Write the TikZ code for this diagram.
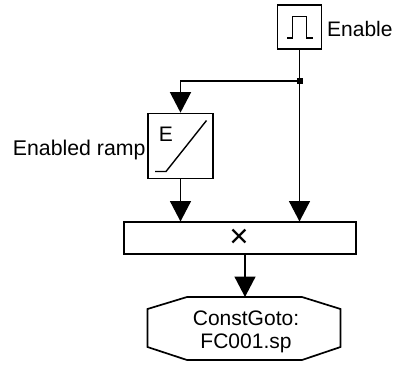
\documentclass[tikz,border=0pt]{standalone}
\usepackage{fontspec}
\setmainfont{Liberation Sans}
\usetikzlibrary{arrows.meta}
\begin{document}
\begin{tikzpicture}[x=1pt,y=-1pt,
  blk/.style={draw=black,line width=1.7pt,fill=white,inner sep=0pt,anchor=center},
  wire/.style={draw=black,line width=1.5pt},
  arr/.style={wire,-{Triangle[length=20.5pt,width=21pt,fill=black]}},
  lbl/.style={font=\fontsize{21pt}{22.5pt}\selectfont,inner sep=0pt,text=black},
  icon/.style={draw=black,line width=1.4pt}]
\useasboundingbox (0,0) rectangle (393,365);
\node[blk,minimum width=44pt,minimum height=44pt] (enable) at (299.5,27) {};
\node[lbl,anchor=base west] (enablelbl) at (327,36) {Enable};
\draw[icon] (287,38) -- (292.5,38) -- (292.5,16.5) -- (306.5,16.5) -- (306.5,38) -- (312.5,38);
\node[blk,minimum width=65pt,minimum height=65pt] (ramp) at (180.5,146) {};
\node[lbl,anchor=base] (e) at (166,141.5) {E};
\draw[icon] (155,171.5) -- (166,171.5) -- (206.5,120.5);
\node[lbl,font=\fontsize{21.3pt}{22.5pt}\selectfont,anchor=base east] (ramplbl) at (145.7,155.5) {Enabled ramp};
\node[blk,minimum width=232pt,minimum height=32pt] (mult) at (240,238) {};
\node[lbl,anchor=center,font=\fontsize{33pt}{34pt}\selectfont] (times) at (239,238) {×};
\coordinate (oct) at (245,297);
\draw[blk] (187,297) -- (302,297) -- (340.5,309) -- (340.5,347) -- (302,360) -- (187,360) -- (147.5,347) -- (147.5,309) -- cycle;
\node[lbl,align=center,anchor=center] (goto) at (246,332) {ConstGoto:\\FC001.sp};
\fill (299.5,81) ++(-3,-3) rectangle ++(6,6);
\coordinate (j) at (299.5,81);
\coordinate (jl) at (180.5,81);
\coordinate (m1) at (180.5,221.5);
\coordinate (m2) at (299.5,221.5);
\coordinate (mo) at (245,254);
\draw[wire] (enable.south) -- (j);
\draw[arr] (j) -- (m2);
\draw[arr] (j) -- (jl) -- (ramp.north);
\draw[arr] (ramp.south) -- (m1);
\draw[arr] (mo) -- (oct);
\end{tikzpicture}
\end{document}
